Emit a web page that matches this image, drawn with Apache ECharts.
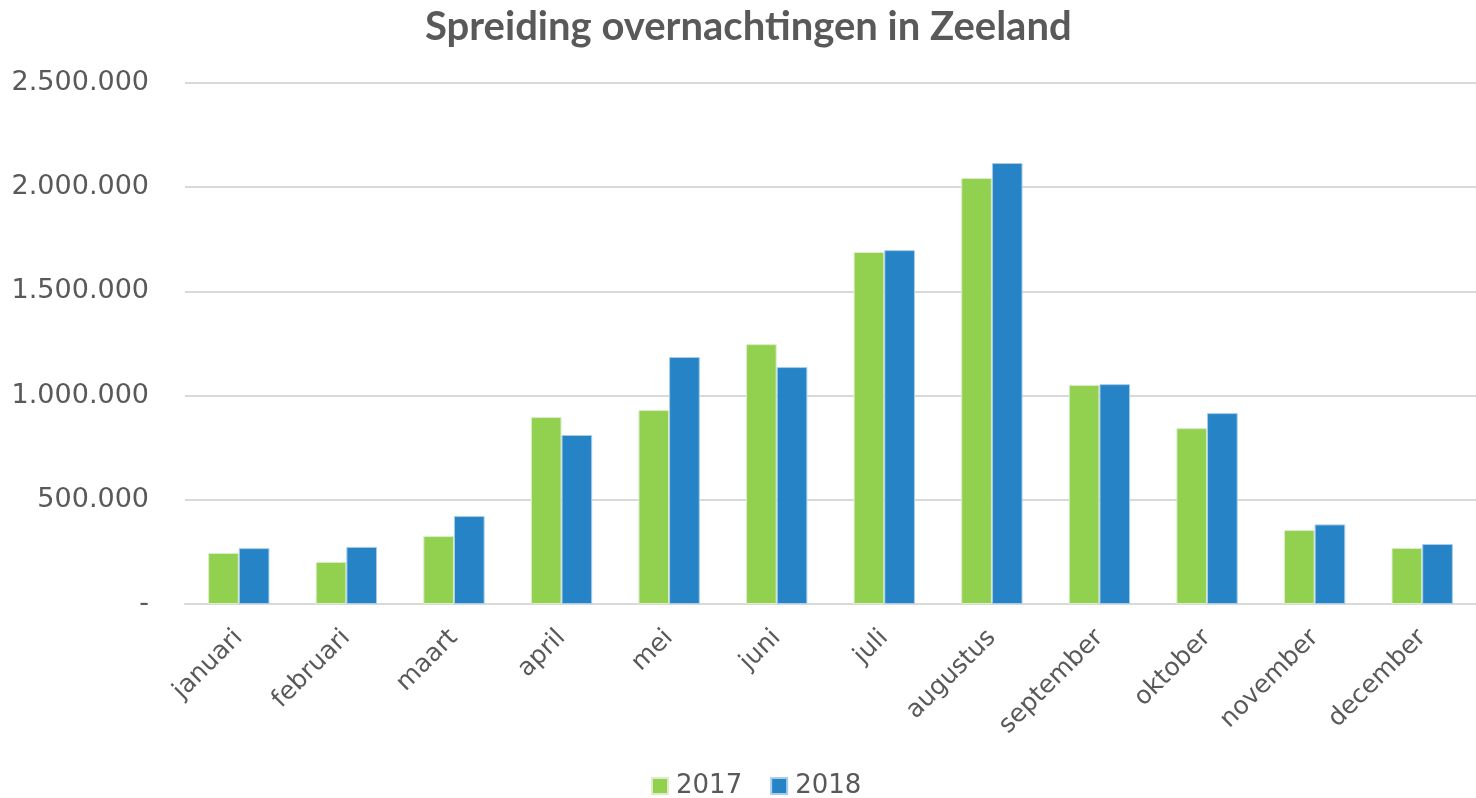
<!DOCTYPE html>
<html lang="nl">
<head>
    <meta charset="UTF-8">
    <title>Spreiding overnachtingen in Zeeland</title>
    <style>
        html, body { margin: 0; padding: 0; background: #fff; }
    </style>
</head>
<body>
<div id="main" style="width: 1476px;height: 798px"></div>
<script src="https://cdn.jsdelivr.net/npm/echarts@6/dist/echarts.min.js"></script>
<script>
    var maanden = ['januari', 'februari', 'maart', 'april', 'mei', 'juni', 'juli',
        'augustus', 'september', 'oktober', 'november', 'december'];
    var jaar2017 = [245000, 202000, 326000, 897000, 931000, 1247000, 1689000,
        2044000, 1051000, 844000, 355000, 269000];
    var jaar2018 = [268000, 274000, 422000, 811000, 1185000, 1137000, 1698000,
        2116000, 1055000, 916000, 382000, 288000];

    var titelFont = 'Lato, "Noto Sans", sans-serif';
    var font = '"DejaVu Sans", sans-serif';
    var grijs = '#595959';

    function puntNotatie(v) {
        if (v === 0) return '-';
        return String(v).replace(/\B(?=(\d{3})+(?!\d))/g, '.');
    }

    var myChart = echarts.init(document.getElementById('main'));
    var option = {
        animation: false,
        title: {
            text: 'Spreiding overnachtingen in Zeeland',
            left: 420,
            top: 2,
            textStyle: {
                fontFamily: titelFont,
                fontSize: 40,
                fontWeight: 'bold',
                color: grijs
            }
        },
        legend: {
            bottom: -6,
            left: 646,
            itemWidth: 16,
            itemHeight: 16,
            itemGap: 28,
            icon: 'rect',
            textStyle: {
                fontFamily: font,
                fontSize: 26,
                color: grijs,
                padding: [0, 0, 0, 3]
            },
            data: ['2017', '2018']
        },
        grid: {
            left: 185,
            right: -12,
            top: 83,
            bottom: 194,
            containLabel: false
        },
        xAxis: {
            type: 'category',
            data: maanden,
            axisLine: { lineStyle: { color: '#d9d9d9', width: 2 } },
            axisTick: { show: false },
            axisLabel: {
                rotate: 45,
                fontFamily: font,
                fontSize: 25,
                color: grijs,
                margin: 30,
                interval: 0
            }
        },
        yAxis: {
            type: 'value',
            min: 0,
            max: 2500000,
            interval: 500000,
            axisLine: { show: false },
            axisTick: { show: false },
            splitLine: { lineStyle: { color: '#d9d9d9', width: 2 } },
            axisLabel: {
                formatter: puntNotatie,
                fontFamily: font,
                fontSize: 27,
                color: grijs,
                margin: 36
            }
        },
        series: [
            {
                name: '2017',
                type: 'bar',
                data: jaar2017,
                barGap: '0%',
                barCategoryGap: '43%',
                itemStyle: { color: '#92d050', borderColor: '#dbeec8', borderWidth: 1 }
            },
            {
                name: '2018',
                type: 'bar',
                data: jaar2018,
                itemStyle: { color: '#2683c6', borderColor: '#a8cdea', borderWidth: 1 }
            }
        ]
    };
    myChart.setOption(option);
</script>
</body>
</html>
